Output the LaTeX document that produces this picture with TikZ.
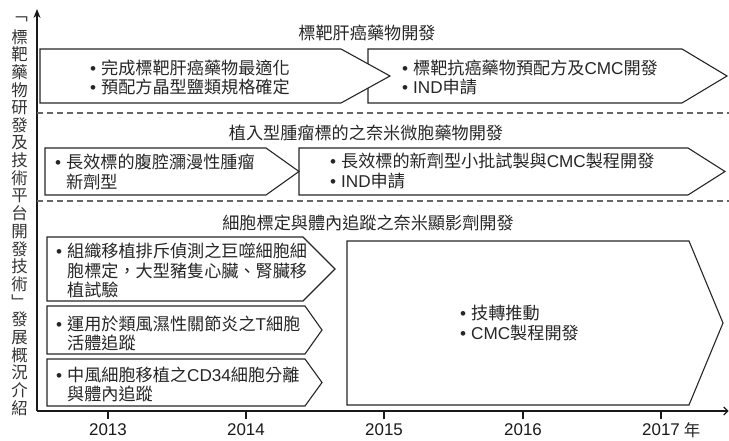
\documentclass[tikz,border=0pt]{standalone}
\usepackage{fontspec}
\setmainfont{Noto Sans CJK TC}
\newfontfamily\lat{Liberation Sans}
\usetikzlibrary{arrows.meta}
\newcommand{\bulitem}{{\lat\char"2022}\hspace{5bp}}
\newcommand{\indentbul}{\hphantom{\bulitem}}
\begin{document}
\begin{tikzpicture}[x=1bp,y=-1bp,
  box/.style={draw=black!85, line width=1.1bp, fill=white, line join=miter},
  txt/.style={anchor=west, inner sep=0pt, align=left, text=black!85,
    font=\fontsize{17.2}{19.5}\selectfont},
  ttl/.style={inner sep=0pt, text=black!85, font=\fontsize{17.2}{19.5}\selectfont},
  yr/.style={inner sep=0pt, text=black!90, font=\lat\fontsize{17}{20}\selectfont},
  vchar/.style={inner sep=0pt, text=black!80, font=\fontsize{16.5}{18}\selectfont},
  sep/.style={draw=black!60, line width=1.1bp, dash pattern=on 6bp off 4bp},
  axis/.style={draw=black!90, line width=1.1bp},
  tick/.style={draw=black!90, line width=1.1bp}]
\useasboundingbox (0,0) rectangle (729,441);

% axes
\coordinate (origin) at (37,411);
\coordinate (ytop) at (37,9);
\coordinate (xend) at (728.5,411);
\draw[axis, -{Stealth[length=9bp,width=7bp]}] (origin) -- (ytop);
\draw[axis, -{Straight Barb[length=4bp,width=8bp]}] (origin) -- (xend);

% years
\foreach \yy/\xx in {2013/108,2014/246,2015/384,2016/523,2017/661}{
  \coordinate (t\yy) at (\xx,411);
  \draw[tick] (t\yy) -- ++(0,8);
  \node[yr] (y\yy) at (\xx,430) {\yy};
}
\node[ttl, font=\fontsize{16.5}{18}\selectfont] (nian) at (692,430) {年};

% vertical caption
\foreach \c [count=\i from 0] in {﹁,標,靶,藥,物,研,發,及,技,術,平,台,開,發,技,術,﹂,發,展,概,況,介,紹}{
  \node[vchar] (v\i) at (19.5,19.3+17.67*\i) {\c};
}

% row 1
\node[ttl] (title1) at (367,33) {標靶肝癌藥物開發};
\path[box] (368,49) -- (682,49) -- (727,76) -- (682,103) -- (368,103) -- cycle;
\path[box] (40,49) -- (341,49) -- (390,76) -- (341,103) -- (40,103) -- cycle;
\node[txt] (b1) at (90,77.5) {\bulitem 完成標靶肝癌藥物最適化\\\bulitem 預配方晶型鹽類規格確定};
\node[txt] (b2) at (402,77.5) {\bulitem 標靶抗癌藥物預配方及{\lat CMC}開發\\\bulitem {\lat IND}申請};
\draw[sep] (37,113) -- (729,113);

% row 2
\node[ttl] (title2) at (366,133) {植入型腫瘤標的之奈米微胞藥物開發};
\path[box] (299,148) -- (688,148) -- (725,171.5) -- (688,195) -- (299,195) -- cycle;
\path[box] (45,148) -- (266,148) -- (299,171.5) -- (266,195) -- (45,195) -- cycle;
\node[txt] (b3) at (55,172) {\bulitem 長效標的腹腔瀰漫性腫瘤\\\indentbul 新劑型};
\node[txt] (b4) at (330,171) {\bulitem 長效標的新劑型小批試製與{\lat CMC}製程開發\\\bulitem {\lat IND}申請};
\draw[sep] (37,201) -- (729,201);

% row 3
\node[ttl] (title3) at (368,223) {細胞標定與體內追蹤之奈米顯影劑開發};
\path[box] (347,241) -- (689,241) -- (723,323) -- (689,405) -- (347,405) -- cycle;
\path[box] (47,237) -- (303,237) -- (335,269) -- (303,301) -- (47,301) -- cycle;
\path[box] (47,306) -- (305,306) -- (322,330) -- (305,354) -- (47,354) -- cycle;
\path[box] (47,359) -- (305,359) -- (322,382.5) -- (305,406) -- (47,406) -- cycle;
\node[txt] (b5) at (56,270.5) {\bulitem 組織移植排斥偵測之巨噬細胞細\\\indentbul 胞標定，大型豬隻心臟、腎臟移\\\indentbul 植試驗};
\node[txt] (b6) at (56,333.5) {\bulitem 運用於類風濕性關節炎之{\lat T}細胞\\\indentbul 活體追蹤};
\node[txt] (b7) at (56,384.5) {\bulitem 中風細胞移植之{\lat CD34}細胞分離\\\indentbul 與體內追蹤};
\node[txt] (b8) at (460,323) {\bulitem 技轉推動\\\bulitem {\lat CMC}製程開發};
\end{tikzpicture}
\end{document}
